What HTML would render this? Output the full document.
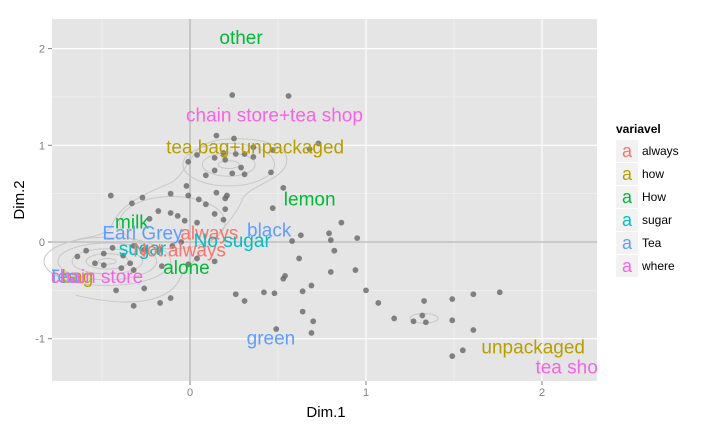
<!DOCTYPE html>
<html><head><meta charset="utf-8">
<style>
body{margin:0;background:#fff;}
svg{display:block;font-family:"Liberation Sans",sans-serif;}
</style></head>
<body>
<svg id="chart" width="720" height="432" viewBox="0 0 720 432">
  <rect x="52" y="19" width="545" height="362" fill="#E5E5E5"/>
  <g id="grid"></g>
  <g id="contours" fill="none" stroke="#c8c8c8" stroke-width="1"></g>
  <g id="points"></g>
  <g id="labels"></g>
  <g id="axes"></g>
  <text x="326" y="417" text-anchor="middle" font-size="15" fill="#000">Dim.1</text>
  <text x="0" y="0" transform="translate(24,200) rotate(-90)" text-anchor="middle" font-size="15" fill="#000">Dim.2</text>
  <g id="legend">
    <text x="616" y="133" font-size="12" font-weight="bold" fill="#000">variavel</text>
  </g>
</svg>
<script>
const xTicks = [0, 1, 2];
const yTicks = [-1, 0, 1, 2];
const xMinor = [-0.5, 0.5, 1.5];
const yMinor = [-0.5, 0.5, 1.5];
const ptX = [0.24,0.56,0.15,0.25,0.04,0.14,0.19,0.26,0.31,0.36,0.36,0.47,0.68,0.73,-0.01,0.20,0.29,0.14,0.24,0.31,0.09,0.46,0.53,-0.02,0.15,0.21,0.20,-0.11,-0.01,0.05,0.09,-0.45,-0.27,-0.33,0.47,0.20,-0.18,-0.11,-0.07,-0.03,-0.23,0.14,0.19,0.04,0.86,0.79,0.63,0.80,0.58,0.95,0.82,0.62,0.94,0.80,0.54,0.53,0.69,0.64,1.00,0.42,0.48,0.26,0.31,1.07,0.64,0.70,0.49,0.69,1.16,1.27,1.32,1.34,1.33,1.49,1.49,1.61,1.76,1.61,1.49,1.55,-0.64,-0.59,-0.44,-0.49,-0.38,-0.54,-0.49,-0.39,-0.34,-0.32,-0.26,-0.17,-0.16,-0.10,-0.05,-0.01,0.04,0.14,-0.42,-0.26,-0.32,-0.17,-0.11,-0.32];
const ptY = [1.52,1.51,1.10,1.07,0.90,0.87,0.92,0.91,0.91,0.88,0.98,0.95,0.96,1.02,0.83,0.85,0.77,0.74,0.71,0.70,0.69,0.72,0.56,0.58,0.51,0.48,0.45,0.50,0.48,0.44,0.39,0.48,0.46,0.40,0.35,0.34,0.32,0.30,0.27,0.22,0.24,0.29,0.23,0.20,0.20,0.09,0.07,0.02,0.01,0.04,-0.09,-0.17,-0.29,-0.31,-0.35,-0.38,-0.45,-0.51,-0.50,-0.52,-0.53,-0.54,-0.61,-0.63,-0.72,-0.82,-0.90,-0.94,-0.79,-0.82,-0.76,-0.83,-0.61,-0.59,-0.81,-0.54,-0.52,-0.91,-1.18,-1.12,-0.15,-0.09,-0.06,-0.12,-0.14,-0.22,-0.24,-0.27,-0.22,-0.29,-0.08,-0.08,-0.25,-0.04,0.00,-0.23,-0.17,-0.20,-0.50,-0.48,-0.66,-0.63,-0.58,-0.04];
const labText = ["other","chain store+tea shop","tea bag+unpackaged","lemon","milk","Earl Grey","always","black","No sugar","sugar","Not.always","alone","tea bag","Tea","chain store","green","unpackaged","tea shop"];
const labX = [0.29,0.48,0.37,0.68,-0.33,-0.27,0.11,0.45,0.24,-0.27,-0.06,-0.02,-0.73,-0.72,-0.53,0.46,1.95,2.17];
const labY = [2.12,1.32,0.99,0.45,0.21,0.10,0.10,0.13,0.02,-0.06,-0.08,-0.26,-0.35,-0.35,-0.35,-0.99,-1.08,-1.29];
const labGroup = [2,5,1,2,2,4,0,4,3,3,0,2,1,4,5,4,1,5];
const legendLabels = ["always","how","How","sugar","Tea","where"];
const colors = ["#F8766D","#B79F00","#00BA38","#00BFC4","#619CFF","#F564E3"];

const NS="http://www.w3.org/2000/svg";
const L=52,R=597,T=19,B=381;
function sx(v){return 190+v*176;}
function sy(v){return 242-v*96.7;}
function mk(tag,attrs,parent){const e=document.createElementNS(NS,tag);for(const k in attrs)e.setAttribute(k,attrs[k]);parent.appendChild(e);return e;}
const grid=document.getElementById('grid');
xMinor.forEach(v=>{const l=mk('line',{x1:sx(v),x2:sx(v),y1:T,y2:B,stroke:'#F2F2F2','stroke-width':0.6},grid);

});
yMinor.forEach(v=>{const l=mk('line',{x1:L,x2:R,y1:sy(v),y2:sy(v),stroke:'#F2F2F2','stroke-width':0.6},grid);

});
xTicks.forEach(v=>{const l=mk('line',{x1:sx(v),x2:sx(v),y1:T,y2:B,stroke:'#fff','stroke-width':1.2},grid);

});
yTicks.forEach(v=>{const l=mk('line',{x1:L,x2:R,y1:sy(v),y2:sy(v),stroke:'#fff','stroke-width':1.2},grid);

});
const r1=mk('line',{x1:sx(0),x2:sx(0),y1:T,y2:B,stroke:'#BEBEBE','stroke-width':1.6},grid);


const r2=mk('line',{x1:L,x2:R,y1:sy(0),y2:sy(0),stroke:'#BEBEBE','stroke-width':1.6},grid);



const cg=document.getElementById('contours');
function ell(cx,cy,rx,ry){const e=mk('ellipse',{cx:sx(cx),cy:sy(cy),rx:rx*176,ry:ry*96.7},cg);

}
[[0.05,0.03],[0.12,0.08],[0.2,0.13],[0.28,0.19],[0.36,0.25]].forEach(r=>ell(-0.47,-0.2,r[0],r[1]));
[[0.06,0.04],[0.15,0.12],[0.26,0.22]].forEach(r=>ell(0.22,0.8,r[0],r[1]));
ell(-0.1,0.2,0.3,0.27);
ell(1.33,-0.79,0.08,0.05);
const blob=mk('path',{d:`M${sx(-0.65)},${sy(-0.55)} C${sx(-0.3)},${sy(-0.7)} ${sx(-0.1)},${sy(-0.6)} ${sx(-0.05)},${sy(-0.35)} C${sx(0.05)},${sy(-0.1)} ${sx(0.25)},${sy(0.2)} ${sx(0.3)},${sy(0.45)} C${sx(0.35)},${sy(0.6)} ${sx(0.55)},${sy(0.65)} ${sx(0.55)},${sy(0.85)} C${sx(0.55)},${sy(1.05)} ${sx(0.3)},${sy(1.1)} ${sx(0.15)},${sy(1.05)} C${sx(0)},${sy(1)} ${sx(0)},${sy(0.75)} ${sx(-0.1)},${sy(0.62)} C${sx(-0.25)},${sy(0.5)} ${sx(-0.4)},${sy(0.4)} ${sx(-0.45)},${sy(0.15)} C${sx(-0.5)},${sy(0.05)} ${sx(-0.6)},${sy(0.05)} ${sx(-0.65)},${sy(0.02)}`},cg);



const pg=document.getElementById('points');
ptX.forEach((v,i)=>{const c=mk('circle',{cx:sx(v),cy:sy(ptY[i]),r:2.9,fill:'#666','fill-opacity':0.8},pg);

});

const defs=mk('defs',{},document.getElementById('chart'));
const cp=mk('clipPath',{id:'pc'},defs);mk('rect',{x:L,y:T,width:R-L,height:B-T},cp);
const lg=document.getElementById('labels');lg.setAttribute('clip-path','url(#pc)');
labText.forEach((t,i)=>{const e=mk('text',{x:sx(labX[i]),y:sy(labY[i])+7,'text-anchor':'middle','font-size':19,fill:colors[labGroup[i]]},lg);e.textContent=t;

});

const ax=document.getElementById('axes');
xTicks.forEach(v=>{const l=mk('line',{x1:sx(v),x2:sx(v),y1:B,y2:B+4,stroke:'#7f7f7f'},ax);


const t=mk('text',{x:sx(v),y:B+15,'text-anchor':'middle','font-size':11,fill:'#7f7f7f'},ax);t.textContent=v;

});
yTicks.forEach(v=>{const l=mk('line',{x1:L-4,x2:L,y1:sy(v),y2:sy(v),stroke:'#7f7f7f'},ax);


const t=mk('text',{x:L-7,y:sy(v)+4,'text-anchor':'end','font-size':11,fill:'#7f7f7f'},ax);t.textContent=v;

});

const leg=document.getElementById('legend');
legendLabels.forEach((t,i)=>{const y=140+i*23;
const k=mk('rect',{x:616,y:y,width:22,height:22,fill:'#F2F2F2'},leg);


const a=mk('text',{x:627,y:y+17,'text-anchor':'middle','font-size':18,fill:colors[i]},leg);a.textContent='a';


const lt=mk('text',{x:642,y:y+15,'font-size':12,fill:'#000'},leg);lt.textContent=t;

});
</script>
</body></html>
